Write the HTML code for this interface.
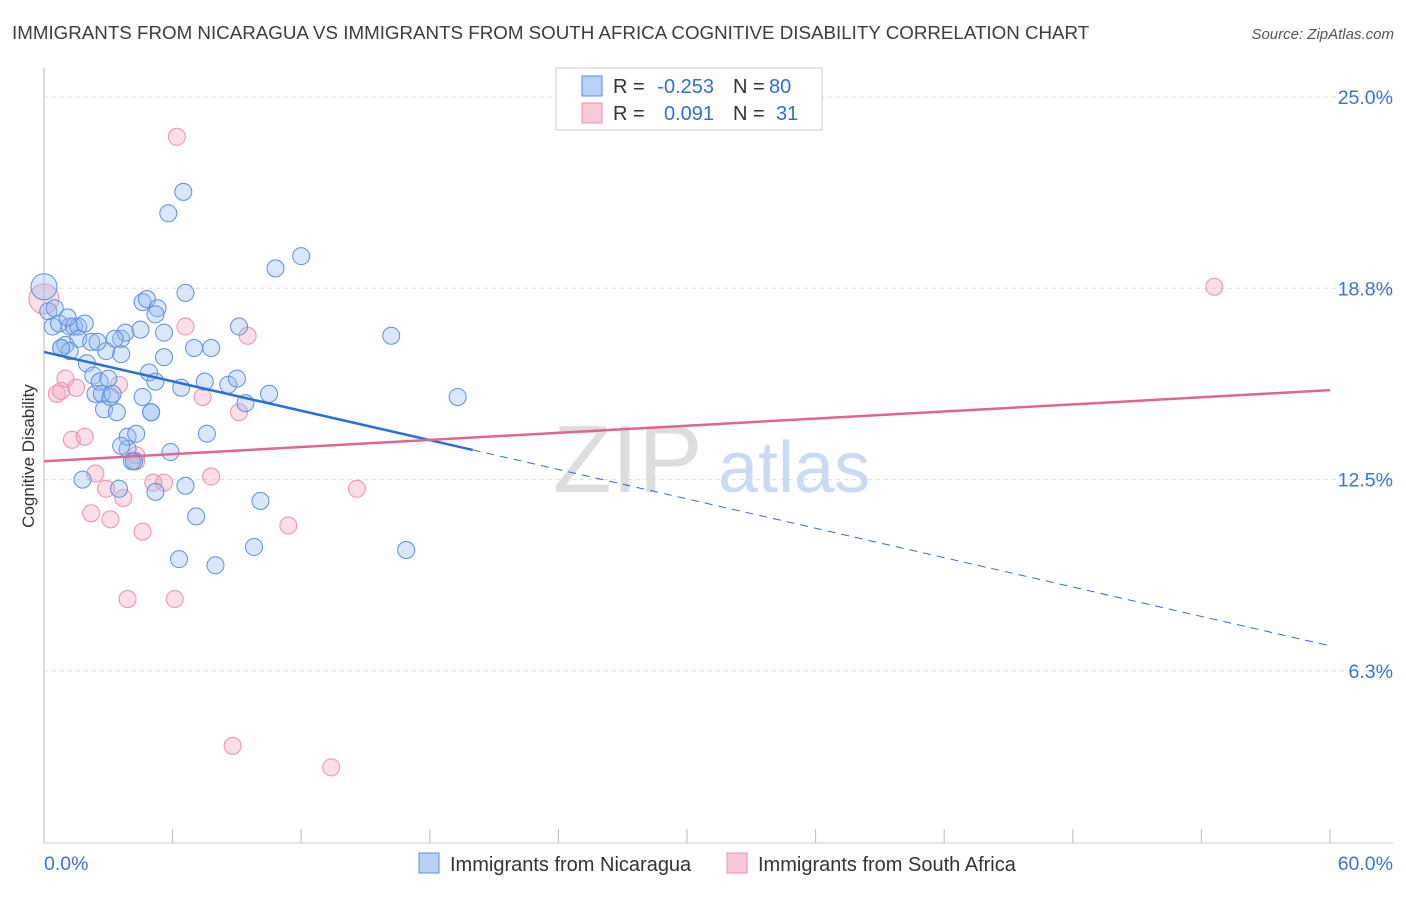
<!DOCTYPE html>
<html><head><meta charset="utf-8"><style>
body{margin:0;background:#fff;font-family:"Liberation Sans",sans-serif;}
svg text{font-family:"Liberation Sans",sans-serif;}
</style></head><body>
<svg id="chart" width="1406" height="892" xmlns="http://www.w3.org/2000/svg">
<text x="12" y="39" font-size="18.75" fill="#3c3c3c">IMMIGRANTS FROM NICARAGUA VS IMMIGRANTS FROM SOUTH AFRICA COGNITIVE DISABILITY CORRELATION CHART</text>
<text x="1394" y="39" font-size="15" fill="#555" text-anchor="end" font-style="italic">Source: ZipAtlas.com</text>
<g>
<text x="553" y="492" font-size="96" fill="#ddd" font-family="Liberation Serif, serif">ZIP</text>
<text x="718" y="492" font-size="72" fill="#c9daf2">atlas</text>
</g>
<g id="grid"></g>
<g id="axes"></g>
<g id="marks"></g>
<text transform="translate(34,456) rotate(-90)" font-size="17" fill="#333" text-anchor="middle">Cognitive Disability</text>
<g font-size="20">
<rect x="556" y="68" width="266" height="62" fill="#fff" stroke="#ccc"/>
<rect x="582" y="76" width="20" height="20" fill="#b9d1f5" stroke="#5b8fe0"/>
<rect x="582" y="103" width="20" height="20" fill="#f9c9d6" stroke="#ec8fab"/>
<text x="613" y="93" fill="#333">R =</text>
<text x="714" y="93" fill="#2f6fd6" text-anchor="end">-0.253</text>
<text x="733" y="93" fill="#333">N =</text>
<text x="769" y="93" fill="#2f6fd6">80</text>
<text x="613" y="120" fill="#333">R =</text>
<text x="714" y="120" fill="#2f6fd6" text-anchor="end">0.091</text>
<text x="733" y="120" fill="#333">N =</text>
<text x="776" y="120" fill="#2f6fd6">31</text>
</g>
<g>
<rect x="419" y="853" width="20" height="20" fill="#b9d1f5" stroke="#5b8fe0"/>
<text x="450" y="871" font-size="20" fill="#333">Immigrants from Nicaragua</text>
<rect x="727" y="853" width="20" height="20" fill="#f9c9d6" stroke="#ec8fab"/>
<text x="758" y="871" font-size="20" fill="#333">Immigrants from South Africa</text>
</g>
</svg>
<script>
const yTicks=[25,18.75,12.5,6.25];
const yTickLabels=["25.0%","18.8%","12.5%","6.3%"];
const xTickLabels=["0.0%","60.0%"];
const blueX=[0,0.2,0.4,0.7,0.8,1.0,1.2,1.4,1.6,1.9,1.6,1.2,2.0,2.2,2.3,2.4,2.6,2.7,2.8,2.9,3.0,3.1,3.2,3.4,3.6,3.6,3.8,3.9,3.9,4.1,4.3,4.5,4.6,4.8,4.9,5.0,5.0,5.2,5.2,5.3,5.2,5.6,5.6,5.8,5.9,6.3,6.4,6.5,6.6,6.6,7.0,7.1,7.6,7.5,7.8,8.0,8.6,9.0,9.1,9.4,9.8,10.1,10.5,10.8,12.0,16.2,16.9,19.3,1.8,3.5,4.2,3.6,1.1,0.5,0.8,2.5,3.3,4.6];
const blueY=[18.8,18.0,17.5,17.6,16.8,16.9,17.5,17.5,17.5,17.6,17.1,16.7,16.3,17.0,15.9,15.3,15.7,15.3,14.8,16.7,15.8,15.2,15.3,14.7,16.6,17.1,17.3,13.5,13.9,13.1,14.0,17.4,18.3,18.4,16.0,14.7,14.7,15.7,12.1,18.1,17.9,16.5,17.3,21.2,13.4,9.9,15.5,21.9,18.6,12.3,16.8,11.3,14.0,15.7,16.8,9.7,15.6,15.8,17.5,15.0,10.3,11.8,15.3,19.4,19.8,17.2,10.2,15.2,12.5,12.2,13.1,13.6,17.8,18.1,16.8,17.0,17.1,15.2];
const pinkX=[0,0.6,0.8,1.0,1.3,1.5,1.9,2.2,2.4,2.9,3.1,3.5,3.7,3.9,4.3,4.6,5.1,5.6,6.1,6.2,6.6,7.4,7.8,8.8,9.1,9.5,11.4,13.4,14.6,54.6,4.3];
const pinkY=[18.4,15.3,15.4,15.8,13.8,15.5,13.9,11.4,12.7,12.2,11.2,15.6,11.9,8.6,13.3,10.8,12.4,12.4,8.6,23.7,17.5,15.2,12.6,3.8,14.7,17.2,11.0,3.1,12.2,18.8,13.1];
const blueTrend=[16.67,-0.16];
const pinkTrend=[13.1,0.0387];
const X0=44,X1=1330,Y25=97,PX6=191.3;
function sx(v){return X0+v*(X1-X0)/60;}
function sy(v){return Y25+(25-v)*PX6/6.25;}
const NS="http://www.w3.org/2000/svg";
function mk(tag,attrs,parent){const e=document.createElementNS(NS,tag);for(const k in attrs)e.setAttribute(k,attrs[k]);document.getElementById(parent).appendChild(e);return e;}
yTicks.forEach((t,i)=>{
 const l=mk('line',{x1:44,x2:1393,y1:sy(t),y2:sy(t),stroke:'#ddd','stroke-dasharray':'4,4'},'grid');
 
 
 const tx=mk('text',{x:1393,y:sy(t)+7,'font-size':19.5,fill:'#3a74d8','text-anchor':'end'},'grid');
 tx.textContent=yTickLabels[i];
 
 
});
const ax=mk('line',{x1:44,x2:44,y1:68,y2:843,stroke:'#bbb'},'axes');


const bx=mk('line',{x1:44,x2:1393,y1:843,y2:843,stroke:'#ccc'},'axes');


for(let i=0;i<=10;i++){
 const t=mk('line',{x1:sx(i*6),x2:sx(i*6),y1:829,y2:843,stroke:'#bbb'},'axes');
 
 
}
[[0,'start',44],[60,'end',1393]].forEach((d,i)=>{
 const t=mk('text',{x:d[2],y:870,'font-size':19.5,fill:'#3a74d8','text-anchor':d[1]},'axes');
 t.textContent=xTickLabels[i];
 
 
});
pinkX.forEach((x,i)=>{
 const c=mk('circle',{cx:sx(x),cy:sy(pinkY[i]),r:i===0?15:8.5,fill:'rgba(244,160,185,0.35)',stroke:'#ec8fab','stroke-width':1},'marks');
 
 
});
blueX.forEach((x,i)=>{
 const c=mk('circle',{cx:sx(x),cy:sy(blueY[i]),r:i===0?13:8.5,fill:'rgba(150,185,240,0.35)',stroke:'#5b8fe0','stroke-width':1},'marks');
 
 
});
const bl=mk('line',{x1:sx(0),y1:sy(blueTrend[0]),x2:sx(20),y2:sy(blueTrend[0]+blueTrend[1]*20),stroke:'#2a6fd8','stroke-width':2.5},'marks');


const bd=mk('line',{x1:sx(20),y1:sy(blueTrend[0]+blueTrend[1]*20),x2:sx(60),y2:sy(blueTrend[0]+blueTrend[1]*60),stroke:'#2a6fd8','stroke-width':1,'stroke-dasharray':'8,6'},'marks');


const pl=mk('line',{x1:sx(0),y1:sy(pinkTrend[0]),x2:sx(60),y2:sy(pinkTrend[0]+pinkTrend[1]*60),stroke:'#e0668f','stroke-width':2.5},'marks');


</script>
</body></html>
